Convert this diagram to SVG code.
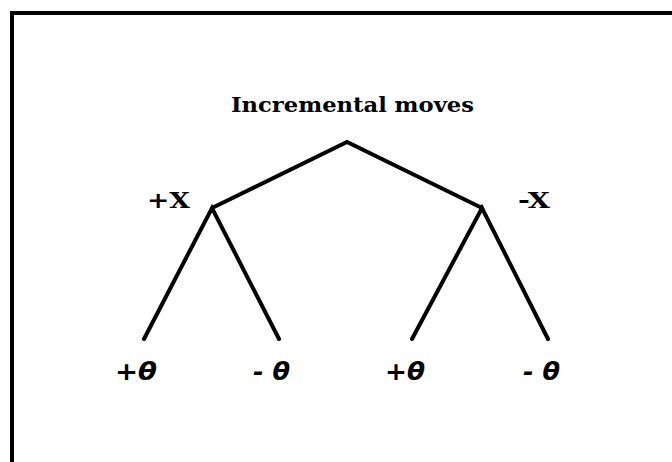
<svg xmlns="http://www.w3.org/2000/svg" width="672" height="462" viewBox="0 0 672 462">
<style>
.e{stroke:#000;stroke-width:4;stroke-linecap:round;fill:none}
.t{font-family:"DejaVu Serif",serif;font-weight:bold;fill:#000}
.th{font-family:"DejaVu Sans",sans-serif;font-weight:bold;font-style:italic;font-size:24px;fill:#000}
</style>
<rect width="672" height="462" fill="#fff"/>
<path d="M12,462 V13 H672" stroke="#000" stroke-width="4" fill="none"/>
<text class="t" x="231" y="112" font-size="21" textLength="243" lengthAdjust="spacingAndGlyphs">Incremental moves</text>
<g id="connectors">
<path class="e" d="M212,208 L347,142 L482,208"/>
<path class="e" d="M144,339 L212,208 L279,339"/>
<path class="e" d="M412,339 L482,208 L548,339"/>
</g>
<g id="nx_plus"><text class="t" x="147" y="208" font-size="22" textLength="43" lengthAdjust="spacingAndGlyphs">+X</text></g>
<g id="nx_minus"><text class="t" x="518" y="208" font-size="22" textLength="32" lengthAdjust="spacingAndGlyphs">-X</text></g>
<g id="l1"><text class="th" x="115" y="380" textLength="42" lengthAdjust="spacingAndGlyphs">+θ</text></g>
<g id="l2"><text class="th" x="253" y="380" textLength="37" lengthAdjust="spacingAndGlyphs">- θ</text></g>
<g id="l3"><text class="th" x="385" y="380" textLength="40" lengthAdjust="spacingAndGlyphs">+θ</text></g>
<g id="l4"><text class="th" x="523" y="380" textLength="37" lengthAdjust="spacingAndGlyphs">- θ</text></g>
</svg>
